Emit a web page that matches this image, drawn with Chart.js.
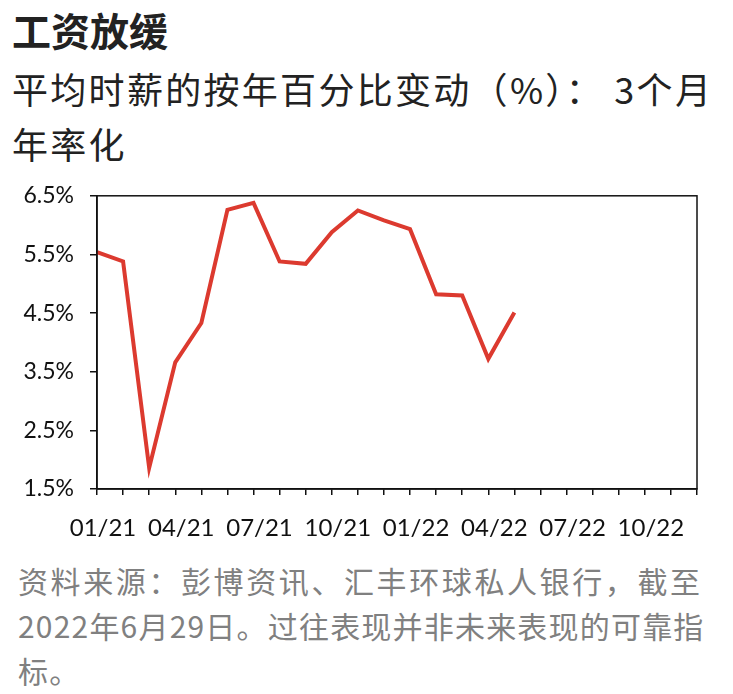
<!DOCTYPE html>
<html>
<head>
<meta charset="utf-8">
<script src="https://cdn.jsdelivr.net/npm/chart.js@4.4.0/dist/chart.umd.min.js"></script>
<style>
  body { margin: 0; background: #fff; width: 733px; height: 694px; overflow: hidden; position: relative; }
  .txt { position: absolute; left: 12px; white-space: nowrap; font-family: "Noto Sans CJK SC", "Noto Sans", sans-serif; }
  #title { top: 5px; font-size: 39px; line-height: 48px; font-weight: bold; color: #222; }
  #subtitle { top: 61px; font-size: 36px; line-height: 55px; color: #222; letter-spacing: 2.3px; }
  #footer { left: 18px; top: 558px; font-size: 30px; line-height: 45px; color: #808080; letter-spacing: 1.2px; }
  #footer .l1 { letter-spacing: 2.6px; }
  #wrap { position: absolute; left: 0; top: 166px; width: 733px; height: 384px; }
</style>
</head>
<body>
<div class="txt" id="title">工资放缓</div>
<div class="txt" id="subtitle">平均时薪的按年百分比变动（%）： 3个月<br>年率化</div>
<div class="txt" id="footer"><span class="l1">资料来源：彭博资讯、汇丰环球私人银行，截至</span><br>2022年6月29日。过往表现并非未来表现的可靠指<br>标。</div>
<div id="wrap"><canvas id="chart"></canvas></div>
<script>
// months shown on the x axis (Jan 2021 - Dec 2022)
const months = ["01/21", "02/21", "03/21", "04/21", "05/21", "06/21", "07/21", "08/21", "09/21", "10/21", "11/21", "12/21",
                "01/22", "02/22", "03/22", "04/22", "05/22", "06/22", "07/22", "08/22", "09/22", "10/22", "11/22", "12/22"];
// average hourly earnings, 3m annualised, %
const wageGrowth = [5.54, 5.38, 1.86, 3.66, 4.33, 6.26, 6.38, 5.38, 5.34, 5.88, 6.25, 6.08, 5.93, 4.82, 4.80, 3.72, 4.51];
const yMin = 1.5;
const yMax = 6.5;
const yStep = 1;

const boxPlugin = {
  id: "box",
  afterDraw(chart) {
    const { ctx, chartArea: a } = chart;
    ctx.save();
    ctx.strokeStyle = "#111";
    ctx.lineWidth = 1.5;
    ctx.strokeRect(a.left, a.top, a.right - a.left, a.bottom - a.top);
    ctx.restore();
  }
};

const ctx = document.getElementById("chart").getContext("2d");

new Chart(ctx, {
  type: "line",
  data: {
    labels: months,
    datasets: [{
      label: "wages",
      data: wageGrowth,
      borderColor: "#dc3a2f",
      borderWidth: 4,
      pointRadius: 0,
      tension: 0,
      fill: false
    }]
  },
  options: {
    responsive: true,
    maintainAspectRatio: false,
    animation: false,
    layout: { padding: { top: 3, right: 36, bottom: 0, left: 0 } },
    plugins: {
      legend: { display: false },
      tooltip: { enabled: false }
    },
    scales: {
      x: {
        offset: false,
        afterFit: scale => { scale.height = 61; },
        grid: { drawOnChartArea: false, color: "#111", tickLength: 6, lineWidth: 1.5 },
        border: { color: "#111", width: 1.5 },
        ticks: {
          autoSkip: false,
          maxRotation: 0,
          padding: 19,
          labelOffset: 6,
          color: "#111",
          font: { family: "Lato", size: 24 },
          callback: (v, i) => (i % 3 === 0 ? months[i] : "")
        }
      },
      y: {
        min: yMin,
        max: yMax,
        afterFit: scale => { scale.width = 97; },
        grid: { drawOnChartArea: false, color: "#111", tickLength: 7, lineWidth: 1.5 },
        border: { color: "#111", width: 1.5 },
        ticks: {
          stepSize: yStep,
          padding: 16,
          color: "#111",
          font: { family: "Lato", size: 23 },
          callback: v => v.toFixed(1) + "%"
        }
      }
    }
  },
  plugins: [boxPlugin]
});
</script>
</body>
</html>
